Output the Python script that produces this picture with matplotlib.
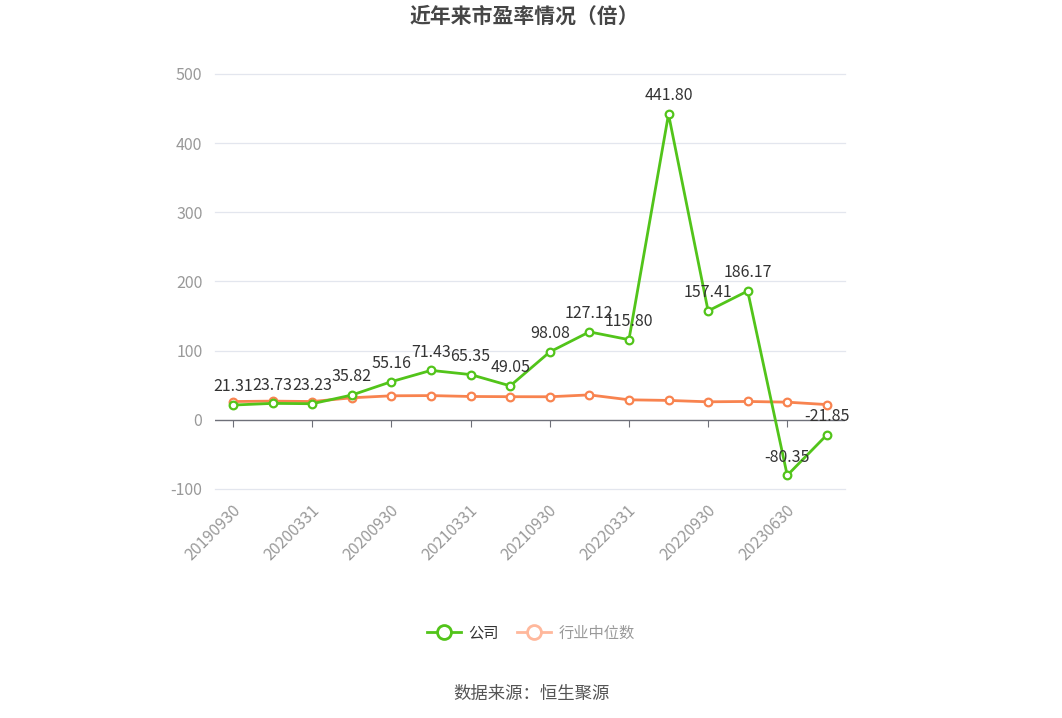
import numpy as np
import matplotlib
matplotlib.use("Agg")
import matplotlib.pyplot as plt
from matplotlib.lines import Line2D

plt.rcParams['font.family'] = ['Noto Sans CJK SC', 'DejaVu Sans']

dates = ["20190930", "20191231", "20200331", "20200630", "20200930", "20201231",
         "20210331", "20210630", "20210930", "20211231", "20220331", "20220630",
         "20220930", "20221231", "20230630", "20230930"]
company = [21.31, 23.73, 23.23, 35.82, 55.16, 71.43, 65.35, 49.05, 98.08, 127.12,
           115.80, 441.80, 157.41, 186.17, -80.35, -21.85]
industry = [26.4, 27.0, 26.4, 31.8, 34.7, 35.0, 33.7, 33.4, 33.3, 36.0,
            28.9, 28.0, 26.0, 26.5, 25.5, 22.0]
yticks = [-100, 0, 100, 200, 300, 400, 500]

GREEN = '#52c41a'
ORANGE = '#f8834f'

fig = plt.figure(figsize=(10.62, 7.18), dpi=100)
ax = fig.add_axes([0.2024, 0.319, 0.5933, 0.578])

x = np.arange(len(dates))
ax.plot(x, industry, color=ORANGE, lw=2, marker='o', ms=5.5, mfc='white',
        mec=ORANGE, mew=1.6, zorder=3)
ax.plot(x, company, color=GREEN, lw=2, marker='o', ms=5.5, mfc='white',
        mec=GREEN, mew=1.6, zorder=4)

for xi, v in zip(x, company):
    ax.annotate("%.2f" % v, (xi, v), xytext=(0, 7), textcoords='offset points',
                ha='center', va='bottom', fontsize=11.5, color='#333333', zorder=5)

ax.set_xlim(-0.46, len(dates) - 1 + 0.46)
ax.set_ylim(-100, 500)
ax.set_yticks(yticks)
ax.set_yticklabels([str(t) for t in yticks], color='#999999', fontsize=11.5)
ax.tick_params(axis='y', length=0, pad=9)

for t in yticks:
    if t != 0:
        ax.axhline(t, color='#e3e6ee', lw=0.9, zorder=0, clip_on=False)
ax.axhline(0, color='#6e7079', lw=1, zorder=1)

for s in ax.spines.values():
    s.set_visible(False)
# x ticks sit on the zero line, labels below the plot
ax.spines['bottom'].set_position(('data', 0))
ax.set_xticks(x[::2])
ax.set_xticklabels([])
ax.tick_params(axis='x', length=5, color='#6e7079')
for xi, d in zip(x[::2], dates[::2]):
    ax.annotate(d, (xi, -100), xytext=(-1, -9), textcoords='offset points',
                rotation=45, ha='right', va='top', rotation_mode='anchor',
                color='#999999', fontsize=11.5, annotation_clip=False)

fig.text(0.494, 0.977, "近年来市盈率情况（倍）", ha='center', va='center',
         fontsize=15, fontweight='bold', color='#464646')

handles = [
    Line2D([0], [0], color=GREEN, lw=2, marker='o', ms=10, mfc='white', mec=GREEN, mew=2),
    Line2D([0], [0], color='#ffb89c', lw=2, marker='o', ms=10, mfc='white', mec='#ffb89c', mew=2),
]
leg = fig.legend(handles, ["公司", "行业中位数"], loc='center', bbox_to_anchor=(0.5, 0.118),
                 ncol=2, frameon=False, fontsize=11, handlelength=2.2,
                 columnspacing=1.2, handletextpad=0.5)
leg.get_texts()[0].set_color('#333333')
leg.get_texts()[1].set_color('#999999')

fig.text(0.5, 0.033, "数据来源：恒生聚源", ha='center', va='center',
         fontsize=12.5, color='#555555')

fig.savefig("out.png", dpi=100)
